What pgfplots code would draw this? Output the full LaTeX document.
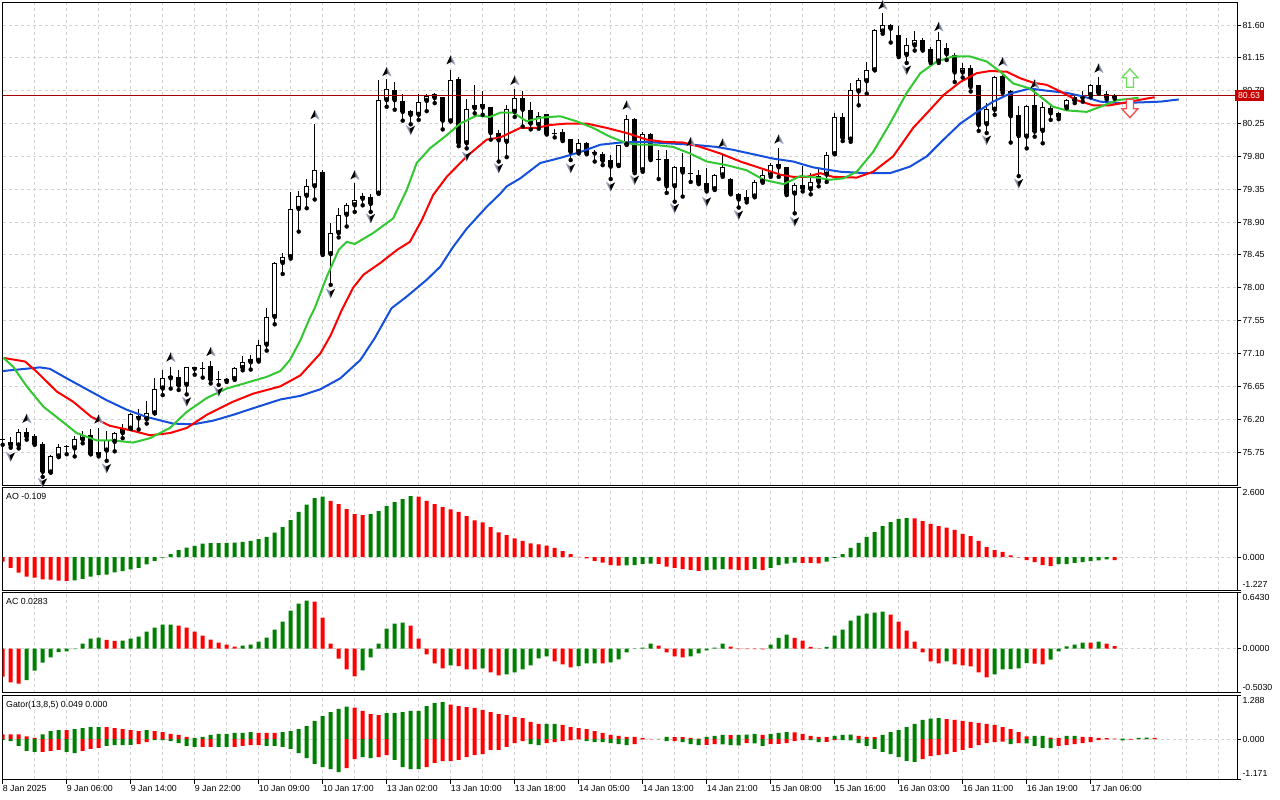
\documentclass[border=0pt]{standalone}
\usepackage{pgfplots}
\pgfplotsset{compat=1.18}
\usepackage{pgfplotstable}
\usepackage{fontspec}
\setmainfont{Liberation Sans}

\definecolor{jaw}{RGB}{20,80,220}
\definecolor{teeth}{RGB}{255,0,0}
\definecolor{lips}{RGB}{50,200,50}
\definecolor{hgreen}{RGB}{0,128,0}
\definecolor{hred}{RGB}{255,0,0}
\definecolor{gridc}{RGB}{210,210,210}
\definecolor{pline}{RGB}{170,0,0}
\definecolor{pbox}{RGB}{200,0,0}
\definecolor{frdark}{RGB}{0,0,0}
\definecolor{frlight}{RGB}{125,125,130}
\definecolor{fredge}{RGB}{160,170,205}
\definecolor{upgreen}{RGB}{110,220,90}
\definecolor{dnred}{RGB}{245,80,80}

\pgfdeclareplotmark{fup}{%
  \pgfscope
  \pgfsetlinewidth{0.6pt}\pgfsetstrokecolor{fredge}\pgfsetroundjoin
  \pgfsetfillcolor{frlight}%
  \pgfpathmoveto{\pgfpoint{0pt}{4.6pt}}\pgfpathlineto{\pgfpoint{4.4pt}{-4.4pt}}\pgfpathlineto{\pgfpoint{0pt}{-1.6pt}}\pgfpathclose
  \pgfusepath{fill,stroke}%
  \pgfsetfillcolor{frdark}%
  \pgfpathmoveto{\pgfpoint{0pt}{4.6pt}}\pgfpathlineto{\pgfpoint{-4.4pt}{-4.4pt}}\pgfpathlineto{\pgfpoint{0.8pt}{-1.6pt}}\pgfpathclose
  \pgfusepath{fill}%
  \endpgfscope}
\pgfdeclareplotmark{fdn}{%
  \pgfscope
  \pgfsetlinewidth{0.6pt}\pgfsetstrokecolor{fredge}\pgfsetroundjoin
  \pgfsetfillcolor{frlight}%
  \pgfpathmoveto{\pgfpoint{0pt}{-4.6pt}}\pgfpathlineto{\pgfpoint{-4.4pt}{4.4pt}}\pgfpathlineto{\pgfpoint{0pt}{1.6pt}}\pgfpathclose
  \pgfusepath{fill,stroke}%
  \pgfsetfillcolor{frdark}%
  \pgfpathmoveto{\pgfpoint{0pt}{-4.6pt}}\pgfpathlineto{\pgfpoint{4.4pt}{4.4pt}}\pgfpathlineto{\pgfpoint{-0.8pt}{1.6pt}}\pgfpathclose
  \pgfusepath{fill}%
  \endpgfscope}
\pgfdeclareplotmark{bigup}{%
  \pgfpathmoveto{\pgfpoint{0pt}{9.5pt}}\pgfpathlineto{\pgfpoint{8pt}{0.5pt}}%
  \pgfpathlineto{\pgfpoint{3.5pt}{0.5pt}}\pgfpathlineto{\pgfpoint{3.5pt}{-9pt}}%
  \pgfpathlineto{\pgfpoint{-3.5pt}{-9pt}}\pgfpathlineto{\pgfpoint{-3.5pt}{0.5pt}}%
  \pgfpathlineto{\pgfpoint{-8pt}{0.5pt}}\pgfpathclose\pgfusepathqfillstroke}
\pgfdeclareplotmark{bigdn}{%
  \pgfpathmoveto{\pgfpoint{0pt}{-9.5pt}}\pgfpathlineto{\pgfpoint{8pt}{-0.5pt}}%
  \pgfpathlineto{\pgfpoint{3.5pt}{-0.5pt}}\pgfpathlineto{\pgfpoint{3.5pt}{9pt}}%
  \pgfpathlineto{\pgfpoint{-3.5pt}{9pt}}\pgfpathlineto{\pgfpoint{-3.5pt}{-0.5pt}}%
  \pgfpathlineto{\pgfpoint{-8pt}{-0.5pt}}\pgfpathclose\pgfusepathqfillstroke}

\pgfplotstableread{
i o h l c
0 75.92 75.98 75.85 75.92
1 75.89 75.96 75.81 75.84
2 75.84 76.06 75.80 76.02
3 76.02 76.08 75.92 75.96
4 75.97 76.00 75.85 75.86
5 75.86 75.89 75.41 75.48
6 75.47 75.71 75.47 75.70
7 75.69 75.86 75.68 75.82
8 75.82 75.85 75.72 75.82
9 75.80 75.97 75.69 75.93
10 75.92 76.04 75.87 75.98
11 75.98 76.06 75.72 75.72
12 75.71 76.08 75.69 75.75
13 75.77 76.04 75.63 75.92
14 75.89 76.03 75.76 76.01
15 76.01 76.13 75.94 76.06
16 76.07 76.28 76.07 76.27
17 76.25 76.34 76.06 76.21
18 76.20 76.45 76.14 76.29
19 76.28 76.76 76.28 76.62
20 76.62 76.87 76.53 76.76
21 76.76 76.92 76.62 76.79
22 76.78 76.87 76.60 76.66
23 76.67 76.91 76.54 76.91
24 76.91 76.92 76.81 76.89
25 76.90 76.99 76.77 76.90
26 76.93 77.00 76.69 76.74
27 76.74 76.86 76.67 76.74
28 76.75 76.77 76.71 76.73
29 76.75 76.92 76.74 76.90
30 76.90 77.06 76.87 76.99
31 76.98 77.08 76.88 77.02
32 77.00 77.28 76.99 77.21
33 77.22 77.72 77.14 77.60
34 77.60 78.35 77.50 78.34
35 78.34 78.48 78.19 78.42
36 78.42 79.31 78.40 79.08
37 79.08 79.32 78.77 79.26
38 79.26 79.49 79.09 79.39
39 79.39 80.24 79.21 79.61
40 79.59 79.61 78.45 78.46
41 78.46 78.89 78.04 78.75
42 78.75 79.09 78.69 79.00
43 79.00 79.16 78.84 79.13
44 79.13 79.43 79.04 79.20
45 79.22 79.30 79.13 79.26
46 79.25 79.28 79.04 79.15
47 79.29 80.85 79.29 80.57
48 80.57 80.86 80.48 80.72
49 80.71 80.82 80.44 80.57
50 80.56 80.66 80.29 80.41
51 80.42 80.44 80.24 80.37
52 80.37 80.65 80.30 80.54
53 80.56 80.66 80.42 80.63
54 80.65 80.67 80.53 80.60
55 80.61 80.61 80.17 80.29
56 80.28 80.99 80.28 80.84
57 80.86 80.89 79.94 79.98
58 79.98 80.58 79.91 80.45
59 80.46 80.78 80.39 80.50
60 80.52 80.70 80.37 80.47
61 80.47 80.47 80.03 80.12
62 80.12 80.16 79.73 80.02
63 80.00 80.50 79.79 80.45
64 80.41 80.72 80.34 80.60
65 80.60 80.69 80.21 80.44
66 80.44 80.54 80.17 80.25
67 80.23 80.41 80.18 80.36
68 80.38 80.38 80.10 80.11
69 80.11 80.17 80.06 80.11
70 80.14 80.17 80.01 80.02
71 80.04 80.04 79.75 79.86
72 79.86 80.04 79.84 79.99
73 79.99 80.00 79.83 79.84
74 79.86 79.89 79.73 79.84
75 79.83 79.86 79.68 79.74
76 79.75 79.82 79.49 79.66
77 79.67 79.96 79.67 79.96
78 79.96 80.37 79.96 80.31
79 80.31 80.32 79.57 79.59
80 79.61 80.14 79.59 80.11
81 80.11 80.12 79.75 79.76
82 79.76 79.89 79.49 79.76
83 79.76 79.89 79.30 79.39
84 79.39 79.67 79.18 79.66
85 79.65 79.85 79.25 79.58
86 79.56 79.98 79.45 79.56
87 79.54 79.62 79.42 79.43
88 79.43 79.64 79.32 79.34
89 79.35 79.56 79.34 79.55
90 79.54 79.82 79.52 79.65
91 79.49 79.50 79.28 79.29
92 79.29 79.30 79.10 79.21
93 79.20 79.34 79.17 79.25
94 79.25 79.47 79.24 79.45
95 79.45 79.61 79.44 79.54
96 79.54 79.71 79.52 79.68
97 79.70 79.91 79.52 79.65
98 79.65 79.66 79.27 79.28
99 79.29 79.43 79.02 79.41
100 79.41 79.67 79.32 79.36
101 79.35 79.57 79.28 79.45
102 79.45 79.65 79.39 79.53
103 79.55 79.86 79.45 79.82
104 79.83 80.40 79.83 80.34
105 80.34 80.40 80.01 80.05
106 80.03 80.81 80.00 80.71
107 80.69 80.88 80.50 80.85
108 80.83 81.10 80.66 80.99
109 80.98 81.55 80.98 81.53
110 81.51 81.76 81.48 81.60
111 81.60 81.61 81.36 81.55
112 81.46 81.59 81.16 81.18
113 81.19 81.42 81.08 81.32
114 81.32 81.52 81.25 81.40
115 81.40 81.42 81.25 81.26
116 81.27 81.30 81.08 81.10
117 81.10 81.51 81.08 81.40
118 81.29 81.36 81.12 81.20
119 81.19 81.21 80.82 80.95
120 80.95 81.08 80.88 81.01
121 81.01 81.05 80.69 80.75
122 80.78 80.78 80.15 80.23
123 80.24 80.53 80.12 80.45
124 80.44 80.90 80.37 80.89
125 80.90 80.94 80.67 80.69
126 80.70 80.71 79.99 80.35
127 80.37 80.49 79.53 80.08
128 80.07 80.50 79.91 80.49
129 80.50 80.72 80.07 80.14
130 80.15 80.55 79.98 80.47
131 80.46 80.49 80.30 80.39
132 80.39 80.41 80.31 80.34
133 80.47 80.59 80.46 80.57
134 80.56 80.66 80.53 80.61
135 80.60 80.70 80.55 80.62
136 80.64 80.79 80.61 80.78
137 80.78 80.89 80.66 80.67
138 80.66 80.69 80.58 80.60
139 80.60 80.66 80.59 80.63
}\candles

\pgfplotstableread{
x p
0 76.86
4.66 76.91
5.91 76.89
8.0 76.76
10.5 76.61
13.0 76.46
15.5 76.33
18.0 76.23
21.3 76.14
23.8 76.13
26.3 76.18
28.8 76.26
31.3 76.35
34.7 76.47
37.2 76.52
39.7 76.61
42.2 76.76
44.7 77.01
46.5 77.31
48.6 77.72
50.5 77.88
53.0 78.11
54.7 78.29
56.3 78.56
58.0 78.81
60.5 79.11
62.2 79.29
63.0 79.39
64.7 79.50
67.2 79.71
69.7 79.78
72.2 79.86
74.7 79.96
77.2 79.99
80.1 80.00
83.0 79.98
86.3 79.96
89.2 79.93
91.3 79.89
93.8 79.83
96.3 79.77
98.8 79.73
101.3 79.65
104.7 79.59
108.0 79.57
110.9 79.57
113.4 79.66
115.5 79.80
117.6 80.03
119.7 80.25
121.8 80.41
123.8 80.55
125.9 80.66
128.4 80.73
130.5 80.70
133.0 80.67
135.1 80.62
137.2 80.55
139.7 80.53
142.2 80.54
144.7 80.55
147 80.58
}\jawline

\pgfplotstableread{
x p
0.1 77.04
2.8 76.99
4.25 76.85
6.75 76.58
8.8 76.44
11.1 76.23
13.4 76.11
16.3 76.04
18.4 75.98
20.9 76.01
23.0 76.08
25.5 76.26
28.8 76.44
31.3 76.55
34.7 76.65
37.2 76.80
39.7 77.10
41.0 77.35
42.4 77.70
43.8 78.00
45.1 78.18
47.2 78.34
49.3 78.52
50.9 78.63
52.4 78.93
53.8 79.27
55.5 79.52
58.0 79.80
60.5 80.03
62.2 80.06
64.7 80.19
66.75 80.19
68.4 80.23
70.5 80.25
73.0 80.25
75.5 80.19
78.0 80.12
80.5 80.03
82.6 80.00
85.1 79.99
87.2 79.93
89.7 79.84
92.2 79.73
94.7 79.64
97.2 79.55
98.8 79.52
100.5 79.52
102.2 79.57
103.8 79.52
106.75 79.51
108.8 79.59
111.3 79.80
113.8 80.19
115.5 80.39
117.6 80.64
119.7 80.82
121.75 80.94
123.4 80.97
125.5 80.96
127.2 80.87
128.8 80.81
130.5 80.78
132.2 80.69
134.25 80.57
136.3 80.50
138.4 80.50
140.9 80.55
143.4 80.60
144 80.61
}\teethline

\pgfplotstableread{
x p
0.1 77.04
1.3 76.92
3.0 76.65
5.1 76.37
7.2 76.19
9.25 76.01
11.75 75.91
13.8 75.91
16.3 75.88
18.4 75.94
20.9 76.08
23.0 76.30
25.5 76.49
28.0 76.62
30.5 76.70
33.0 76.78
34.7 76.86
35.9 77.01
37.2 77.28
38.4 77.59
39.0 77.72
40.5 78.15
42.0 78.52
43.0 78.63
44.0 78.60
46.3 78.75
48.8 78.95
50.5 79.34
51.75 79.71
53.4 79.91
55.5 80.09
57.2 80.25
59.25 80.36
60.9 80.34
62.2 80.40
63.8 80.40
65.5 80.28
67.2 80.33
69.7 80.35
71.75 80.28
73.8 80.19
75.9 80.07
78.0 79.98
79.7 79.96
81.3 79.96
83.8 79.93
85.9 79.84
88.0 79.73
90.5 79.68
93.0 79.61
95.1 79.48
97.6 79.42
99.7 79.53
101.75 79.51
103.4 79.48
105.1 79.50
106.75 79.59
108.8 79.86
110.9 80.25
113.0 80.67
114.7 80.94
116.75 81.10
118.8 81.17
120.9 81.17
123.0 81.10
124.7 80.96
126.3 80.80
128.4 80.73
129.7 80.62
131.3 80.48
133.0 80.43
135.5 80.41
137.2 80.48
139.25 80.57
141.75 80.60
142 80.60
}\lipsline

\pgfplotstableread{
i p
3 76.21
12 76.20
21 77.05
26 77.125
39 80.37
44 79.545
48 80.96
56 81.12
64 80.84
78 80.50
86 80.00
90 79.98
97 80.035
110 81.874
117 81.577
125 81.097
129 80.79
137 81.007
}\fractup

\pgfplotstableread{
i p
1 75.686
5 75.33
13 75.527
23 76.44
27 76.577
41 77.925
46 78.952
51 80.16
58 79.80
62 79.637
71 79.637
76 79.385
79 79.477
84 79.09
88 79.18
92 78.997
99 78.906
113 80.984
123 80.025
127 79.43
}\fractdn

\pgfplotstableread{
i v g
0 -0.17 0
1 -0.40 0
2 -0.58 0
3 -0.73 0
4 -0.77 0
5 -0.83 0
6 -0.84 0
7 -0.88 0
8 -0.89 0
9 -0.87 1
10 -0.81 1
11 -0.73 1
12 -0.67 1
13 -0.65 1
14 -0.57 1
15 -0.52 1
16 -0.46 1
17 -0.40 1
18 -0.27 1
19 -0.14 1
20 -0.02 1
21 0.11 1
22 0.26 1
23 0.35 1
24 0.42 1
25 0.50 1
26 0.52 1
27 0.52 1
28 0.53 1
29 0.54 1
30 0.57 1
31 0.60 1
32 0.67 1
33 0.75 1
34 0.91 1
35 1.12 1
36 1.38 1
37 1.68 1
38 1.95 1
39 2.20 1
40 2.25 1
41 2.09 0
42 1.97 0
43 1.79 0
44 1.60 0
45 1.56 0
46 1.60 1
47 1.71 1
48 1.90 1
49 2.05 1
50 2.16 1
51 2.27 1
52 2.25 0
53 2.09 0
54 1.97 0
55 1.86 0
56 1.78 0
57 1.68 0
58 1.53 0
59 1.37 0
60 1.29 0
61 1.12 0
62 0.92 0
63 0.82 0
64 0.70 0
65 0.60 0
66 0.51 0
67 0.47 0
68 0.43 0
69 0.34 0
70 0.22 0
71 0.11 0
72 0.01 0
73 -0.05 0
74 -0.14 0
75 -0.21 0
76 -0.30 0
77 -0.32 0
78 -0.31 1
79 -0.30 1
80 -0.25 1
81 -0.24 1
82 -0.25 0
83 -0.36 0
84 -0.40 0
85 -0.45 0
86 -0.48 0
87 -0.51 0
88 -0.49 1
89 -0.47 1
90 -0.45 1
91 -0.46 0
92 -0.48 0
93 -0.49 0
94 -0.44 1
95 -0.49 0
96 -0.40 1
97 -0.30 1
98 -0.24 1
99 -0.21 1
100 -0.22 0
101 -0.22 0
102 -0.23 0
103 -0.17 1
104 -0.03 1
105 0.11 1
106 0.34 1
107 0.53 1
108 0.75 1
109 0.93 1
110 1.15 1
111 1.30 1
112 1.42 1
113 1.45 1
114 1.44 0
115 1.34 0
116 1.24 0
117 1.15 0
118 1.10 0
119 1.01 0
120 0.86 0
121 0.78 0
122 0.60 0
123 0.37 0
124 0.26 0
125 0.19 0
126 0.06 0
127 -0.01 0
128 -0.11 0
129 -0.19 0
130 -0.30 0
131 -0.34 0
132 -0.26 1
133 -0.26 1
134 -0.22 1
135 -0.19 1
136 -0.15 1
137 -0.12 1
138 -0.09 1
139 -0.109 0
}\aodata

\pgfplotstableread{
i v g
0 -0.32 0
1 -0.385 0
2 -0.40 0
3 -0.36 1
4 -0.25 1
5 -0.16 1
6 -0.10 1
7 -0.04 1
8 -0.03 1
9 -0.005 1
10 0.057 1
11 0.114 1
12 0.126 1
13 0.10 0
14 0.088 0
15 0.091 1
16 0.114 1
17 0.137 1
18 0.194 1
19 0.24 1
20 0.274 1
21 0.275 1
22 0.263 0
23 0.24 0
24 0.194 0
25 0.149 0
26 0.103 0
27 0.069 0
28 0.046 0
29 0.023 0
30 0.034 1
31 0.046 1
32 0.08 1
33 0.126 1
34 0.217 1
35 0.309 1
36 0.434 1
37 0.514 1
38 0.549 1
39 0.537 0
40 0.354 0
41 0.057 0
42 -0.114 0
43 -0.236 0
44 -0.316 0
45 -0.248 1
46 -0.10 1
47 0.057 1
48 0.229 1
49 0.286 1
50 0.297 1
51 0.263 0
52 0.114 0
53 -0.065 0
54 -0.168 0
55 -0.225 0
56 -0.19 1
57 -0.20 0
58 -0.236 0
59 -0.237 0
60 -0.225 1
61 -0.27 0
62 -0.305 0
63 -0.293 1
64 -0.27 1
65 -0.236 1
66 -0.19 1
67 -0.11 1
68 -0.088 1
69 -0.145 0
70 -0.179 0
71 -0.213 0
72 -0.20 1
73 -0.168 1
74 -0.167 1
75 -0.168 0
76 -0.156 1
77 -0.122 1
78 -0.042 1
79 -0.004 1
80 0.011 1
81 0.057 1
82 0.034 0
83 -0.042 0
84 -0.088 0
85 -0.099 0
86 -0.088 1
87 -0.053 1
88 -0.019 1
89 0.011 1
90 0.057 1
91 0.023 0
92 -0.005 0
93 -0.006 0
94 -0.006 0
95 -0.008 0
96 0.046 1
97 0.122 1
98 0.16 1
99 0.122 0
100 0.091 0
101 0.019 0
102 0.003 0
103 0.019 1
104 0.149 1
105 0.217 1
106 0.32 1
107 0.377 1
108 0.40 1
109 0.411 1
110 0.423 1
111 0.389 0
112 0.309 0
113 0.206 0
114 0.08 0
115 -0.042 0
116 -0.145 0
117 -0.168 0
118 -0.145 1
119 -0.179 0
120 -0.19 0
121 -0.202 0
122 -0.27 0
123 -0.328 0
124 -0.293 1
125 -0.236 1
126 -0.235 1
127 -0.225 1
128 -0.165 1
129 -0.17 0
130 -0.18 0
131 -0.126 1
132 -0.03 1
133 0.027 1
134 0.046 1
135 0.069 1
136 0.068 0
137 0.08 1
138 0.057 0
139 0.0283 0
}\acdata

\pgfplotstableread{
i u ug d dg
0 0.137 0 -0.03 1
1 0.137 0 -0.06 1
2 0.137 0 -0.20 1
3 0.08 0 -0.35 1
4 0.03 0 -0.38 1
5 0.137 1 -0.38 0
6 0.23 1 -0.35 0
7 0.26 1 -0.32 0
8 0.26 0 -0.38 1
9 0.29 1 -0.41 1
10 0.32 1 -0.35 0
11 0.35 1 -0.29 0
12 0.35 1 -0.26 0
13 0.35 0 -0.20 1
14 0.32 0 -0.18 1
15 0.29 0 -0.18 1
16 0.26 0 -0.17 1
17 0.23 0 -0.15 0
18 0.26 1 -0.09 0
19 0.23 0 -0.03 1
20 0.20 0 -0.03 1
21 0.15 0 -0.06 1
22 0.12 0 -0.12 1
23 0.06 0 -0.20 1
24 0.03 1 -0.23 1
25 0.06 1 -0.23 0
26 0.12 1 -0.23 0
27 0.15 1 -0.23 1
28 0.15 1 -0.23 1
29 0.18 1 -0.23 0
30 0.18 1 -0.20 0
31 0.20 1 -0.18 0
32 0.18 0 -0.18 0
33 0.18 0 -0.20 1
34 0.18 0 -0.20 1
35 0.20 1 -0.23 1
36 0.23 1 -0.29 1
37 0.29 1 -0.41 1
38 0.38 1 -0.56 1
39 0.53 1 -0.73 1
40 0.67 1 -0.82 1
41 0.79 1 -0.88 1
42 0.88 1 -0.97 1
43 0.95 1 -0.85 0
44 0.92 0 -0.59 0
45 0.82 0 -0.53 1
46 0.73 0 -0.56 1
47 0.70 0 -0.53 0
48 0.76 1 -0.47 0
49 0.76 1 -0.61 1
50 0.79 1 -0.82 1
51 0.82 1 -0.88 1
52 0.82 1 -0.88 1
53 0.96 1 -0.82 0
54 1.05 1 -0.70 0
55 1.08 1 -0.65 0
56 1.01 0 -0.65 0
57 0.96 0 -0.61 0
58 0.93 0 -0.53 0
59 0.91 0 -0.47 0
60 0.85 0 -0.44 0
61 0.79 0 -0.32 0
62 0.73 0 -0.32 0
63 0.70 0 -0.23 0
64 0.64 0 -0.12 0
65 0.61 0 -0.06 0
66 0.50 0 -0.15 1
67 0.44 0 -0.18 1
68 0.44 1 -0.12 0
69 0.44 1 -0.09 0
70 0.41 0 -0.06 0
71 0.35 0 -0.03 0
72 0.32 0 -0.01 0
73 0.29 0 -0.06 1
74 0.23 0 -0.09 1
75 0.18 0 -0.09 1
76 0.12 0 -0.12 1
77 0.09 0 -0.15 1
78 0.06 0 -0.18 1
79 0.06 0 -0.15 0
80 0.03 0 -0.01 0
81 0.005 0 -0.005 0
82 0.005 1 -0.005 0
83 0.06 1 -0.06 1
84 0.055 0 -0.06 0
85 0.055 0 -0.09 1
86 0.03 0 -0.15 1
87 0.01 0 -0.18 1
88 0.06 1 -0.17 0
89 0.09 1 -0.15 0
90 0.12 1 -0.155 1
91 0.115 0 -0.18 1
92 0.12 1 -0.185 1
93 0.125 1 -0.12 0
94 0.15 1 -0.125 1
95 0.12 0 -0.20 1
96 0.15 1 -0.15 0
97 0.18 1 -0.14 0
98 0.20 1 -0.12 0
99 0.195 0 -0.06 0
100 0.15 0 -0.03 0
101 0.09 0 -0.035 1
102 0.06 0 -0.09 1
103 0.055 0 -0.085 0
104 0.09 1 -0.03 0
105 0.12 1 -0.035 1
106 0.125 1 -0.04 1
107 0.09 0 -0.12 1
108 0.06 0 -0.20 1
109 0.055 0 -0.29 1
110 0.12 1 -0.38 1
111 0.20 1 -0.44 1
112 0.26 1 -0.53 1
113 0.35 1 -0.64 1
114 0.44 1 -0.67 1
115 0.56 1 -0.59 0
116 0.60 1 -0.50 0
117 0.61 1 -0.47 0
118 0.58 0 -0.44 0
119 0.56 0 -0.38 0
120 0.53 0 -0.32 0
121 0.50 0 -0.26 0
122 0.47 0 -0.18 0
123 0.44 0 -0.12 0
124 0.41 0 -0.09 0
125 0.35 0 -0.08 0
126 0.29 0 -0.15 1
127 0.20 0 -0.12 0
128 0.08 0 -0.13 1
129 0.09 1 -0.20 1
130 0.095 1 -0.26 1
131 0.04 0 -0.27 1
132 0.03 0 -0.20 0
133 0.09 1 -0.18 0
134 0.095 1 -0.15 0
135 0.06 0 -0.12 0
136 0.055 0 -0.09 0
137 0.03 0 -0.03 0
138 0.025 0 -0.01 0
139 0.01 0 -0.005 0
140 0.012 1 -0.04 1
141 0.005 0 -0.02 0
142 0.035 1 -0.005 0
143 0.04 1 0 0
144 0.035 0 0 0
}\gatordata

\pgfplotsset{
  mtpanel/.style={
    scale only axis, width=1234.6pt,
    xmin=0, xmax=154.325,
    axis line style={line width=1pt, black},
    tick label style={font=\fontsize{8.8}{10}\selectfont},
    ytick pos=right, yticklabel pos=right, tick align=outside,
    major tick length=4pt,
    ytick style={line width=1pt, black},
    yticklabel style={anchor=west, inner sep=0pt, xshift=1pt},
    grid=major,
    major grid style={gridc, line width=1pt, dash pattern=on 3pt off 3pt},
    minor grid style={gridc, line width=1pt, dash pattern=on 3pt off 3pt},
  },
  uppanel/.style={
    xtick={0,4,...,152}, xticklabels={}, xtick style={draw=none},
  },
  hbar/.style={ybar, bar width=4pt, bar shift=0pt, draw=none},
}
\tikzset{ptitle/.style={anchor=north west, inner sep=0pt, font=\fontsize{8.8}{10}\selectfont}}

\begin{document}
\begin{tikzpicture}
\fill[white] (0,0) rectangle (1280pt,-800pt);
\useasboundingbox (0,0) rectangle (1280pt,-800pt);

% ---------------- main price panel ----------------
\begin{axis}[mtpanel, uppanel,
  at={(2.7pt,-2.7pt)}, anchor=north west, height=482.3pt,
  ymin=75.2987, ymax=81.9055,
  ytick={75.75,76.20,76.65,77.10,77.55,78.00,78.45,78.90,79.35,79.80,80.25,80.70,81.15,81.60},
  yticklabels={75.75,76.20,76.65,77.10,77.55,78.00,78.45,78.90,79.35,79.80,80.25,80.70,81.15,81.60},
  extra y ticks={80.63}, extra y tick labels={80.63},
  extra y tick style={grid=none, major tick length=0pt,
    yticklabel style={fill=pbox, text=white, inner xsep=3.5pt, inner ysep=2.4pt, xshift=-4pt}},
]
% wicks
\addplot[only marks, mark=none, error bars/.cd, y dir=plus, y explicit, error mark=none,
  error bar style={draw=black, line width=1pt, solid}]
  table[x=i, y=l, y error expr=\thisrow{h}-\thisrow{l}] {\candles};
% bull bodies: outline
\addplot[only marks, mark=none, restrict expr to domain={\thisrow{c}-\thisrow{o}}{0.001:100},
  error bars/.cd, y dir=plus, y explicit, error mark=none,
  error bar style={draw=black, line width=5pt, solid}]
  table[x=i, y=o, y error expr=\thisrow{c}-\thisrow{o}] {\candles};
% bull bodies: white interior
\addplot[only marks, mark=none, restrict expr to domain={\thisrow{c}-\thisrow{o}}{0.028:100},
  error bars/.cd, y dir=plus, y explicit, error mark=none,
  error bar style={draw=white, line width=3pt, solid}]
  table[x=i, y expr=\thisrow{o}+0.0137, y error expr=\thisrow{c}-\thisrow{o}-0.0274] {\candles};
% bear bodies
\addplot[only marks, mark=none, restrict expr to domain={\thisrow{o}-\thisrow{c}}{0.001:100},
  error bars/.cd, y dir=plus, y explicit, error mark=none,
  error bar style={draw=black, line width=5pt, solid}]
  table[x=i, y=c, y error expr=\thisrow{o}-\thisrow{c}] {\candles};
% doji
\addplot[only marks, mark=-, mark size=2.5pt, mark options={black, line width=1pt},
  restrict expr to domain={\thisrow{c}-\thisrow{o}}{-0.0005:0.0005}]
  table[x=i, y=c] {\candles};
% fractals
\addplot[only marks, mark=fup] table[x=i, y=p] {\fractup};
\addplot[only marks, mark=fdn] table[x=i, y=p] {\fractdn};
% bid line
\addplot[pline, line width=1pt] coordinates {(0,80.63) (154.325,80.63)};
% alligator
\addplot[jaw, line width=2pt, line join=round] table[x=x, y=p] {\jawline};
\addplot[teeth, line width=2pt, line join=round] table[x=x, y=p] {\teethline};
\addplot[lips, line width=2pt, line join=round] table[x=x, y=p] {\lipsline};
% signal arrows
\addplot[only marks, mark=bigup, mark options={draw=upgreen, fill=white, line width=1.3pt}] coordinates {(140.9,80.87)};
\addplot[only marks, mark=bigdn, mark options={draw=dnred, fill=white, line width=1.3pt}] coordinates {(140.9,80.46)};
\end{axis}

% ---------------- AO ----------------
\begin{axis}[mtpanel, uppanel,
  at={(2.7pt,-487.3pt)}, anchor=north west, height=102.7pt,
  ymin=-1.227, ymax=2.6,
  ytick={-1.227,0,2.6},
  yticklabels={\raisebox{2.4pt}[0pt][0pt]{-1.227},0.000,\raisebox{-8.5pt}[0pt][0pt]{2.600}},
]
\addplot[hbar, fill=hgreen, restrict expr to domain={\thisrow{g}}{0.5:1.5}] table[x=i, y=v] {\aodata};
\addplot[hbar, fill=hred, restrict expr to domain={\thisrow{g}}{-0.5:0.5}] table[x=i, y=v] {\aodata};
\node[ptitle] at ([xshift=3.3pt, yshift=-5.4pt]rel axis cs:0,1) {AO -0.109};
\end{axis}

% ---------------- AC ----------------
\begin{axis}[mtpanel, uppanel,
  at={(2.7pt,-592.3pt)}, anchor=north west, height=100.4pt,
  ymin=-0.503, ymax=0.643,
  ytick={-0.503,0,0.643},
  yticklabels={\raisebox{2.4pt}[0pt][0pt]{-0.5030},0.0000,\raisebox{-8.5pt}[0pt][0pt]{0.6430}},
]
\addplot[hbar, fill=hgreen, restrict expr to domain={\thisrow{g}}{0.5:1.5}] table[x=i, y=v] {\acdata};
\addplot[hbar, fill=hred, restrict expr to domain={\thisrow{g}}{-0.5:0.5}] table[x=i, y=v] {\acdata};
\node[ptitle] at ([xshift=3.3pt, yshift=-5.4pt]rel axis cs:0,1) {AC 0.0283};
\end{axis}

% ---------------- Gator ----------------
\begin{axis}[mtpanel,
  at={(2.7pt,-695pt)}, anchor=north west, height=84pt,
  ymin=-1.171, ymax=1.288,
  ytick={-1.171,0,1.288},
  yticklabels={\raisebox{2.4pt}[0pt][0pt]{-1.171},0.000,\raisebox{-8.5pt}[0pt][0pt]{1.288}},
  xtick={0,8,...,136},
  minor xtick={4,12,...,148,144,152},
  grid=both, minor tick length=0pt,
  xtick pos=left,
  xtick style={line width=1pt, black, /pgfplots/major tick length=5pt},
  xticklabels={8 Jan 2025, 9 Jan 06:00, 9 Jan 14:00, 9 Jan 22:00, 10 Jan 09:00, 10 Jan 17:00, 13 Jan 02:00, 13 Jan 10:00, 13 Jan 18:00, 14 Jan 05:00, 14 Jan 13:00, 14 Jan 21:00, 15 Jan 08:00, 15 Jan 16:00, 16 Jan 03:00, 16 Jan 11:00, 16 Jan 19:00, 17 Jan 06:00},
  xticklabel style={anchor=north west, inner sep=0pt, yshift=-2pt},
]
\addplot[hbar, fill=hgreen, restrict expr to domain={\thisrow{ug}}{0.5:1.5}] table[x=i, y=u] {\gatordata};
\addplot[hbar, fill=hred, restrict expr to domain={\thisrow{ug}}{-0.5:0.5}] table[x=i, y=u] {\gatordata};
\addplot[hbar, fill=hgreen, restrict expr to domain={\thisrow{dg}}{0.5:1.5}] table[x=i, y=d] {\gatordata};
\addplot[hbar, fill=hred, restrict expr to domain={\thisrow{dg}}{-0.5:0.5}] table[x=i, y=d] {\gatordata};
\node[ptitle] at ([xshift=3.3pt, yshift=-5.7pt]rel axis cs:0,1) {Gator(13,8,5) 0.049 0.000};
\end{axis}
\end{tikzpicture}
\end{document}
